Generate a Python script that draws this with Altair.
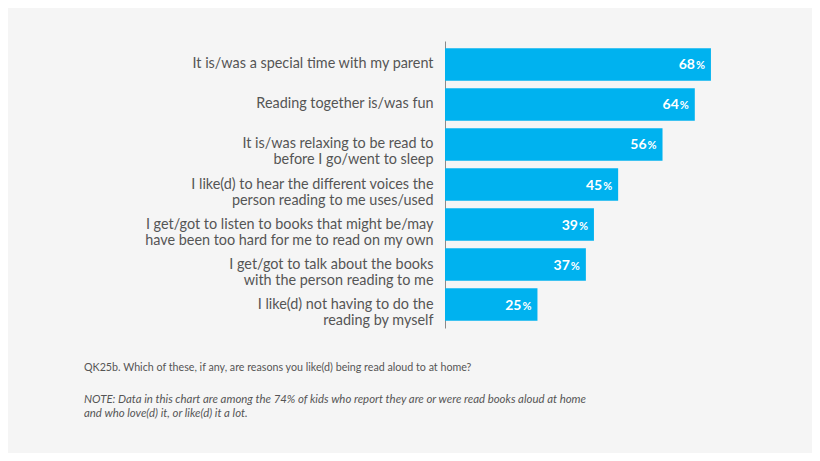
import altair as alt
import pandas as pd

reasons = [
    "It is/was a special time with my parent",
    "Reading together is/was fun",
    "It is/was relaxing to be read to|before I go/went to sleep",
    "I like(d) to hear the different voices the|person reading to me uses/used",
    "I get/got to listen to books that might be/may|have been too hard for me to read on my own",
    "I get/got to talk about the books|with the person reading to me",
    "I like(d) not having to do the|reading by myself",
]
values = [68, 64, 56, 45, 39, 37, 25]

df = pd.DataFrame({"reason": reasons, "value": values})
df["num"] = df["value"].astype(str)
df["pct"] = "%"

FONT = "Lato"
GRAY = "#555555"
X_MIN = 2.08

y_enc = alt.Y(
    "reason:N",
    sort=reasons,
    scale=alt.Scale(paddingInner=0.19, paddingOuter=0.18),
    axis=alt.Axis(
        title=None,
        ticks=False,
        grid=False,
        domain=True,
        domainColor="#8a8a8a",
        domainWidth=1,
        labelPadding=12,
        labelFont=FONT,
        labelFontSize=14.4,
        labelColor=GRAY,
        labelLineHeight=16,
        labelLimit=400,
        labelExpr="split(datum.label, '|')",
    ),
)
x_enc = alt.X("value:Q", scale=alt.Scale(domain=[X_MIN, 70], zero=False), axis=None)

base = alt.Chart(df)

bars = base.mark_bar(color="#00b2ef").encode(x=x_enc, x2=alt.datum(X_MIN), y=y_enc)

nums = base.mark_text(
    align="right", baseline="alphabetic", dx=-16, dy=5,
    font=FONT, fontSize=14, fontWeight="bold", color="white",
).encode(x=x_enc, y=y_enc, text="num:N")

pcts = base.mark_text(
    align="right", baseline="alphabetic", dx=-6, dy=5,
    font=FONT, fontSize=11, fontWeight="bold", color="white",
).encode(x=x_enc, y=y_enc, text="pct:N")

chart = (
    alt.layer(bars, nums, pcts)
    .properties(
        width=274,
        height=287,
        autosize=alt.AutoSizeParams(type="none"),
        padding={"left": 437, "top": 33, "right": 93, "bottom": 125},
        background="#f5f5f5",
        title=alt.TitleParams(
            text="QK25b. Which of these, if any, are reasons you like(d) being read aloud to at home?",
            subtitle=[
                "NOTE: Data in this chart are among the 74% of kids who report they are or were read books aloud at home",
                "and who love(d) it, or like(d) it a lot.",
            ],
            orient="bottom",
            anchor="start",
            frame="group",
            dx=-361,
            offset=35,
            font=FONT,
            fontSize=10.7,
            fontWeight="normal",
            color=GRAY,
            subtitleFont=FONT,
            subtitleFontSize=11.4,
            subtitleFontStyle="italic",
            subtitleColor=GRAY,
            subtitlePadding=20,
            subtitleLineHeight=14,
        ),
    )
    .configure_view(stroke=None)
)

chart.save("out.html", embed_options={"renderer": "svg", "actions": False})
